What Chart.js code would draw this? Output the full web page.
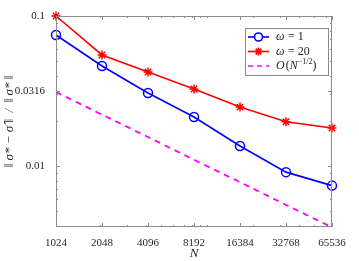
<!DOCTYPE html>
<html>
<head>
<meta charset="utf-8">
<script src="https://cdn.jsdelivr.net/npm/chart.js@4"></script>
<style>
  html, body { margin: 0; padding: 0; background: #fff; }
  #wrap { position: relative; width: 359px; height: 261px; }
</style>
</head>
<body>
<div id="wrap"><canvas id="grafico" width="359" height="261"></canvas></div>
<script>
const valoresN = [1024, 2048, 4096, 8192, 16384, 32768, 65536];
const erroOmega1 = [0.0747, 0.0464, 0.0307, 0.0212, 0.0136, 0.0091, 0.0074];
const erroOmega20 = [0.100, 0.055, 0.0423, 0.0326, 0.0247, 0.0197, 0.0179];
const referencia = [0.0311, 0.0220, 0.0156, 0.0110, 0.0078, 0.0055, 0.0039];
const ticksY = [0.01, 0.0316, 0.1];
const rotulosY = ['0.01', '0.0316', '0.1'];

const corEixo = '#8c8c8c';
const corTexto = '#262626';
const fonteSerif = '"Liberation Serif", "DejaVu Serif", serif';

const pontos = (ys) => valoresN.map((n, i) => ({ x: n, y: ys[i] }));

// caixa, ticks para dentro e legenda no estilo MATLAB
const estiloMatlab = {
    id: 'estiloMatlab',
    afterDraw(chart) {
        const ctx = chart.ctx;
        const a = chart.chartArea;
        const sx = chart.scales.x;
        const sy = chart.scales.y;
        ctx.save();
        ctx.strokeStyle = corEixo;
        ctx.lineWidth = 1;
        ctx.strokeRect(a.left + 0.5, a.top + 0.5, a.right - a.left - 1, a.bottom - a.top - 1);

        const linha = (x1, y1, x2, y2) => {
            ctx.beginPath();
            ctx.moveTo(x1, y1);
            ctx.lineTo(x2, y2);
            ctx.stroke();
        };
        // ticks x
        valoresN.forEach(n => {
            const px = Math.round(sx.getPixelForValue(n)) + 0.5;
            linha(px, a.bottom, px, a.bottom - 4);
            linha(px, a.top, px, a.top + 4);
        });
        [2000, 3000, 4000, 5000, 6000, 7000, 8000, 9000, 10000, 20000, 30000, 40000, 50000, 60000].forEach(n => {
            const px = Math.round(sx.getPixelForValue(n)) + 0.5;
            linha(px, a.bottom, px, a.bottom - 2);
            linha(px, a.top, px, a.top + 2);
        });
        // ticks y
        ticksY.forEach(v => {
            const py = Math.round(sy.getPixelForValue(v)) + 0.5;
            linha(a.left, py, a.left + 4, py);
            linha(a.right, py, a.right - 4, py);
        });
        [0.004, 0.005, 0.006, 0.007, 0.008, 0.009, 0.02, 0.03, 0.04, 0.05, 0.06, 0.07, 0.08, 0.09].forEach(v => {
            const py = Math.round(sy.getPixelForValue(v)) + 0.5;
            linha(a.left, py, a.left + 2, py);
            linha(a.right, py, a.right - 2, py);
        });

        // legenda
        const lx = 245, ly = 28, lw = 83, lh = 47;
        ctx.fillStyle = '#fff';
        ctx.fillRect(lx, ly, lw, lh);
        ctx.strokeStyle = '#8c8c8c';
        ctx.strokeRect(lx + 0.5, ly + 0.5, lw, lh);
        const itens = [
            { cor: '#0000ff', estilo: 'circle', texto: 'ω = 1' },
            { cor: '#ff0000', estilo: 'star', texto: 'ω = 20' },
            { cor: '#ff00ff', estilo: null, texto: null }
        ];
        itens.forEach((item, i) => {
            const yy = ly + 9 + i * 14.5;
            ctx.strokeStyle = item.cor;
            ctx.lineWidth = 1.6;
            if (item.estilo) {
                ctx.setLineDash([]);
                linha(lx + 3, yy, lx + 24, yy);
                Chart.helpers.drawPoint(ctx, { pointStyle: item.estilo, radius: 4, borderWidth: 1.5 }, lx + 13.5, yy);
            } else {
                ctx.setLineDash([5, 4]);
                linha(lx + 3, yy, lx + 24, yy);
                ctx.setLineDash([]);
            }
            ctx.fillStyle = corTexto;
            ctx.textBaseline = 'middle';
            ctx.textAlign = 'left';
            if (item.texto) {
                ctx.font = 'italic 12px ' + fonteSerif;
                ctx.fillText('ω', lx + 31, yy);
                ctx.font = '12px ' + fonteSerif;
                ctx.fillText(' = ' + item.texto.split('= ')[1], lx + 31 + ctx.measureText('ω').width + 1, yy);
            } else {
                let x = lx + 31;
                ctx.font = 'italic 12px ' + fonteSerif;
                ctx.fillText('O', x, yy); x += ctx.measureText('O').width + 1;
                ctx.font = '12px ' + fonteSerif;
                ctx.fillText('(', x, yy); x += ctx.measureText('(').width;
                ctx.font = 'italic 12px ' + fonteSerif;
                ctx.fillText('N', x, yy); x += ctx.measureText('N').width;
                ctx.font = '8px ' + fonteSerif;
                ctx.fillText('−1/2', x, yy - 4); x += ctx.measureText('−1/2').width;
                ctx.font = '12px ' + fonteSerif;
                ctx.fillText(')', x, yy);
            }
        });
        ctx.restore();
    }
};

new Chart(document.getElementById('grafico').getContext('2d'), {
    type: 'line',
    data: {
        datasets: [
            {
                label: 'ω = 1',
                data: pontos(erroOmega1),
                borderColor: '#0000ff',
                backgroundColor: 'rgba(0,0,0,0)',
                borderWidth: 1.6,
                pointStyle: 'circle',
                pointRadius: 4.5,
                pointBorderWidth: 1.5,
                pointBorderColor: '#0000ff'
            },
            {
                label: 'ω = 20',
                data: pontos(erroOmega20),
                borderColor: '#ff0000',
                backgroundColor: 'rgba(0,0,0,0)',
                borderWidth: 1.6,
                pointStyle: 'star',
                pointRadius: 4.5,
                pointBorderWidth: 1.5,
                pointBorderColor: '#ff0000'
            },
            {
                label: 'O(N^-1/2)',
                data: pontos(referencia),
                borderColor: '#ff00ff',
                borderWidth: 1.8,
                borderDash: [6, 5],
                pointRadius: 0
            }
        ]
    },
    options: {
        responsive: false,
        animation: false,
        clip: false,
        layout: { padding: { top: 16, right: 27, left: 2, bottom: 0 } },
        plugins: {
            legend: { display: false },
            tooltip: { enabled: false }
        },
        scales: {
            x: {
                type: 'logarithmic',
                min: 1024,
                max: 65536,
                afterBuildTicks: (s) => { s.ticks = valoresN.map(v => ({ value: v })); },
                afterFit: (s) => { s.height = 34; },
                grid: { display: false },
                border: { display: false },
                ticks: {
                    autoSkip: false,
                    maxRotation: 0,
                    padding: 2,
                    color: corTexto,
                    font: { family: fonteSerif, size: 11 },
                    callback: (v) => String(v)
                },
                title: {
                    display: true,
                    text: 'N',
                    color: corTexto,
                    padding: { top: 0, bottom: 0 },
                    font: { family: fonteSerif, size: 13, style: 'italic' }
                }
            },
            y: {
                type: 'logarithmic',
                min: 0.00392,
                max: 0.1,
                afterBuildTicks: (s) => { s.ticks = ticksY.map(v => ({ value: v })); },
                afterFit: (s) => { s.width = 54; },
                grid: { display: false },
                border: { display: false },
                ticks: {
                    autoSkip: false,
                    padding: 3,
                    color: corTexto,
                    font: { family: fonteSerif, size: 11 },
                    callback: (v) => rotulosY[ticksY.indexOf(v)]
                },
                title: {
                    display: true,
                    text: '‖ σ* − σ̂ ‖  /  ‖ σ* ‖',
                    color: corTexto,
                    padding: { top: 0, bottom: 0 },
                    font: { family: fonteSerif, size: 13, style: 'italic' }
                }
            }
        }
    },
    plugins: [estiloMatlab]
});
</script>
</body>
</html>
